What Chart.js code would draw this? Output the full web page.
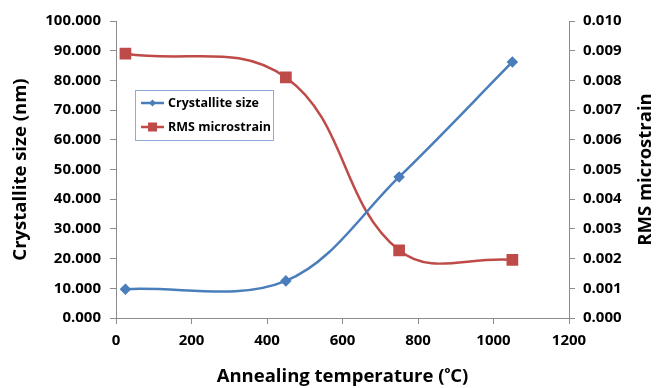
<!DOCTYPE html>
<html>
<head>
<meta charset="utf-8">
<script src="https://cdn.jsdelivr.net/npm/chart.js@4.4.1/dist/chart.umd.min.js"></script>
<style>
  html, body { margin: 0; padding: 0; background: #fff; }
  canvas { display: block; }
</style>
</head>
<body>
<canvas id="grafico" width="658" height="388"></canvas>
<script>
// Datos
const temperaturas = [25, 450, 750, 1050];
const tamanoCristalito = [9.7, 12.5, 47.5, 86.2];
const microdeformacion = [0.0089, 0.0081, 0.00228, 0.00196];
const etiquetasSerie = ["Crystallite size", "RMS microstrain"];
const tituloX = "Annealing temperature (ᵒC)";
const tituloY = "Crystallite size (nm)";
const tituloY2 = "RMS microstrain";

const AZUL = "#4a7ebb";
const ROJO = "#be4b48";
const GRIS = "#8c8c8c";
const FUENTE = "'Open Sans', Lato, sans-serif";

// Leyenda dibujada dentro del área (estilo Excel) y título derecho girado
const extrasExcel = {
  id: 'extrasExcel',
  afterDraw(chart) {
    const ctx = chart.ctx;
    const x = 135, y = 90, w = 138, h = 50;
    ctx.save();
    ctx.fillStyle = "#fff";
    ctx.fillRect(x, y, w, h);
    ctx.strokeStyle = "#8eaad6";
    ctx.lineWidth = 1;
    ctx.strokeRect(x + 0.5, y + 0.5, w, h);
    chart.data.datasets.forEach((ds, i) => {
      const cy = y + 13 + i * 24;
      ctx.strokeStyle = ds.borderColor;
      ctx.lineWidth = 2.5;
      ctx.beginPath();
      ctx.moveTo(141, cy);
      ctx.lineTo(164, cy);
      ctx.stroke();
      ctx.fillStyle = ds.backgroundColor;
      if (ds.pointStyle === 'rectRot') {
        ctx.beginPath();
        ctx.moveTo(152.5, cy - 3.5);
        ctx.lineTo(156, cy);
        ctx.lineTo(152.5, cy + 3.5);
        ctx.lineTo(149, cy);
        ctx.closePath();
        ctx.fill();
      } else {
        ctx.fillRect(148, cy - 4.5, 9, 9);
      }
      ctx.fillStyle = "#000";
      ctx.font = "bold 12.5px " + FUENTE;
      ctx.textBaseline = "middle";
      ctx.fillText(ds.label, 168, cy);
    });

    // Título del eje derecho, leído de abajo hacia arriba como en Excel
    const area = chart.chartArea;
    ctx.translate(646, (area.top + area.bottom) / 2);
    ctx.rotate(-Math.PI / 2);
    ctx.fillStyle = "#000";
    ctx.font = "bold 18.5px " + FUENTE;
    ctx.textAlign = "center";
    ctx.textBaseline = "middle";
    ctx.fillText(tituloY2, 0, 0);
    ctx.restore();
  }
};

const ejeTicks = (tam) => ({ color: "#000", font: { family: FUENTE, size: tam, weight: "bold" } });
const fuenteTitulo = { family: FUENTE, size: 18.5, weight: "bold" };

new Chart(document.getElementById('grafico'), {
  type: 'line',
  data: {
    datasets: [{
      label: etiquetasSerie[0],
      data: temperaturas.map((t, i) => ({ x: t, y: tamanoCristalito[i] })),
      yAxisID: 'y',
      borderColor: AZUL,
      backgroundColor: AZUL,
      borderWidth: 2.5,
      pointStyle: 'rectRot',
      pointRadius: 4,
      tension: 0.35,
      fill: false
    }, {
      label: etiquetasSerie[1],
      data: temperaturas.map((t, i) => ({ x: t, y: microdeformacion[i] })),
      yAxisID: 'y2',
      borderColor: ROJO,
      backgroundColor: ROJO,
      borderWidth: 2.5,
      pointStyle: 'rect',
      pointRadius: 6.5,
      tension: 0.4,
      fill: false
    }]
  },
  options: {
    responsive: false,
    animation: false,
    layout: { padding: { top: 21, left: 0, right: 0, bottom: 0 } },
    plugins: { legend: { display: false }, tooltip: { enabled: false } },
    scales: {
      x: {
        type: 'linear',
        min: 0, max: 1200,
        ticks: { ...ejeTicks(15), stepSize: 200, padding: 8, callback: v => String(v) },
        grid: { drawOnChartArea: false, color: GRIS, tickLength: 6 },
        border: { color: GRIS },
        title: { display: true, text: tituloX, color: "#000", font: fuenteTitulo,
                 padding: { top: -2, bottom: 0 } },
        afterFit(eje) { eje.height = 70; }
      },
      y: {
        position: 'left',
        min: 0, max: 100,
        ticks: { ...ejeTicks(15), stepSize: 10, padding: 9, callback: v => v.toFixed(3) },
        grid: { drawOnChartArea: false, color: GRIS, tickLength: 6 },
        border: { color: GRIS },
        title: { display: true, text: tituloY, color: "#000", font: fuenteTitulo,
                 padding: { top: 10, bottom: 0 } },
        afterFit(eje) { eje.width = 116; }
      },
      y2: {
        position: 'right',
        min: 0, max: 0.01,
        ticks: { ...ejeTicks(15), stepSize: 0.001, padding: 8, callback: v => v.toFixed(3) },
        grid: { drawOnChartArea: false, color: GRIS, tickLength: 6 },
        border: { color: GRIS },
        afterFit(eje) { eje.width = 89; }
      }
    }
  },
  plugins: [extrasExcel]
});
</script>
</body>
</html>
